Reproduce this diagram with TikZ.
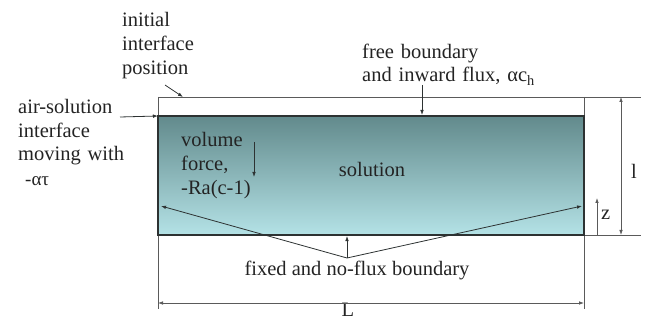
\documentclass[tikz,border=0pt]{standalone}
\usepackage{fontspec}
\setmainfont{Liberation Serif}
\usetikzlibrary{arrows.meta}
\definecolor{txtcol}{RGB}{35,35,35}
\definecolor{linecol}{RGB}{90,90,90}
\definecolor{edgecol}{RGB}{45,50,50}
\definecolor{soltop}{RGB}{98,138,140}
\definecolor{solbot}{RGB}{180,226,230}
\begin{document}
\begin{tikzpicture}[x=1pt,y=-1pt,
  txt/.style={font=\fontsize{20.5}{24}\selectfont, inner sep=0pt, text=txtcol},
  para/.style={txt, text width=#1, align=left, anchor=base west},
  thinline/.style={draw=linecol, line width=0.9pt},
  edge/.style={draw=edgecol, line width=1.8pt},
  tip/.style={draw=edgecol, line width=0.8pt, -{Latex[length=5pt,width=3.6pt]}},
  dimline/.style={draw=linecol, line width=0.8pt, {Latex[length=5pt,width=3.6pt]}-{Latex[length=5pt,width=3.6pt]}}
]
\useasboundingbox (0,0) rectangle (647,320);

% corners of the initial box and of the solution layer
\coordinate (TL) at (158,97);  \coordinate (TR) at (584,97);
\coordinate (SL) at (158,116); \coordinate (SR) at (584,116);
\coordinate (BL) at (158,235); \coordinate (BR) at (584,235);
\coordinate (TX) at (641,97);  \coordinate (BX) at (641,235);
\coordinate (LL) at (158,309); \coordinate (LR) at (584,309);

% solution layer
\shade[top color=soltop, bottom color=solbot] (SL) rectangle (BR);

% initial interface box and extension lines
\draw[thinline] (TL) -- (TX);
\draw[thinline] (BL) -- (BX);
\draw[thinline] (TL) -- (LL);
\draw[thinline] (TR) -- (LR);

% outline of the solution
\draw[edge] (SL) rectangle (BR);

% labels
\node[para=120pt] (init) at (122,27) {initial\\interface\\position};
\node[para=130pt, font=\fontsize{20.5}{23.5}\selectfont] (air) at (18,114) {air-solution\\interface\\moving with};
\node[txt, anchor=base west, font=\fontsize{19}{22}\selectfont] (rate) at (25,186) {-ατ};
\node[para=200pt, font=\fontsize{20.5}{23}\selectfont] (free) at (362,59) {free boundary\\and inward flux, αc\textsubscript{h}};
\node[para=120pt] (vol) at (181,147) {volume\\force,\\-Ra(c-1)};
\node[txt, anchor=base] (sol) at (372,177) {solution};
\node[txt, anchor=base] (fix) at (357,275) {fixed and no-flux boundary};
\node[txt, anchor=base] (Lab) at (348,316) {L};
\node[txt, anchor=base] (lab) at (634,179) {l};
\node[txt, anchor=base west] (zlab) at (601,219) {z};

% pointer arrows
\coordinate (initA) at (165,85);  \coordinate (initB) at (183,97);
\draw[tip] (initA) -- (initB);
\coordinate (airA) at (120,117);
\draw[tip] (airA) -- (SL);
\coordinate (freeA) at (422,85); \coordinate (freeB) at (422,115);
\draw[tip] (freeA) -- (freeB);
\coordinate (volA) at (254,142); \coordinate (volB) at (254,177);
\draw[tip] (volA) -- (volB);

% fixed and no-flux boundary pointers
\coordinate (apex) at (347,258);
\coordinate (fixL) at (161,206); \coordinate (fixR) at (582,206);
\coordinate (fixB) at (347,236);
\draw[tip] (apex) -- (fixL);
\draw[tip] (apex) -- (fixR);
\draw[tip] (apex) -- (fixB);

% dimensions
\coordinate (Ldim1) at (158,303); \coordinate (Ldim2) at (584,303);
\draw[dimline] (Ldim1) -- (Ldim2);
\coordinate (ldim1) at (621,97); \coordinate (ldim2) at (621,235);
\draw[dimline] (ldim1) -- (ldim2);
\coordinate (z0) at (597,235); \coordinate (z1) at (597,198);
\draw[tip, draw=linecol] (z0) -- (z1);
\end{tikzpicture}
\end{document}
